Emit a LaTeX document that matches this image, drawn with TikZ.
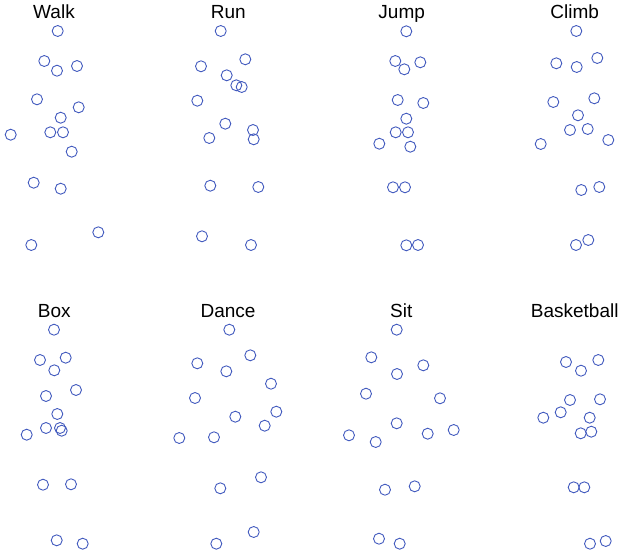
\documentclass[tikz,border=0pt]{standalone}
\usepackage{fontspec}
\setmainfont{Liberation Sans}
\usepackage{tikz}
\usepackage{xcolor}
\definecolor{jointblue}{RGB}{66,90,190}
\tikzset{joint/.style={circle, draw=jointblue, line width=0.9pt, minimum size=11pt, inner sep=0pt},
  title/.style={anchor=base, font=\fontsize{19}{19}\selectfont}}

\begin{document}
\begin{tikzpicture}[x=1pt,y=-1pt]
\useasboundingbox (0,0) rectangle (624,554);

% top row
\node[title] (walk) at (54,18.3) {Walk};
\foreach \px/\py [count=\i] in {57.7/31,44.3/61,57/70.7,77/66,37/99.3,78.7/107.3,60.7/117.7,10.7/134.7,50.3/132.3,63/132.3,71.7/151.7,33.7/182.7,60.7/188.7,98.3/232.3,31.3/245}
  \node[joint] (walk\i) at (\px,\py) {};

\node[title] (run) at (228.3,18.3) {Run};
\foreach \px/\py [count=\i] in {220.7/31,245.3/59.3,201/66.3,226.7/75.3,236.3/85.3,241.7/87,197.3/100.7,225.3/123.7,253/130,209.3/138,253.7/139.3,210.3/185.7,258.3/187,202/236.3,251/245}
  \node[joint] (run\i) at (\px,\py) {};

\node[title] (jump) at (401.7,18.3) {Jump};
\foreach \px/\py [count=\i] in {406.3/31.3,395.3/61,420.3/62.3,404.3/69.3,397.7/100,423.3/103,406.3/118.7,395.7/132.3,408/132.3,379.3/143.7,410.3/146.7,393/187.3,405/187.3,406.3/245.3,418/245}
  \node[joint] (jump\i) at (\px,\py) {};

\node[title] (climb) at (574.7,18.3) {Climb};
\foreach \px/\py [count=\i] in {576.3/31,597.3/58,556.3/63.3,576.7/67,594.3/98.3,553.3/102,578/115.3,570/130,587.7/129,608.3/140,540.7/144,599.3/187,581.3/190,588.3/240,576/245}
  \node[joint] (climb\i) at (\px,\py) {};

% bottom row
\node[title] (box) at (54.3,317.3) {Box};
\foreach \px/\py [count=\i] in {54/329.7,40/360,65.7/357.7,54.3/370.3,76/390,46/396,57.3/414,46/428,60/428,61.7/430.7,26.7/434.7,43/484.7,71/484.3,56.7/540.3,82.7/543.7}
  \node[joint] (box\i) at (\px,\py) {};

\node[title] (dance) at (228,317.3) {Dance};
\foreach \px/\py [count=\i] in {229.3/329.7,250.3/355.3,197.3/363.3,226.3/371.3,271/383.7,195/398,276.3/411.7,235.3/416.7,264.7/425.7,179.3/438,214/437.3,261/477.3,220.3/488.3,253.7/532,216.3/543.7}
  \node[joint] (dance\i) at (\px,\py) {};

\node[title] (sit) at (401.3,317.3) {Sit};
\foreach \px/\py [count=\i] in {396.7/329.7,371.3/357.3,423.3/365.3,397/374,366/393.7,440/398.3,396.7/423.3,349/435.3,453.7/430,427.7/433.7,375.7/442,385/489.7,414.7/486.3,379/538.7,399.7/543.7}
  \node[joint] (sit\i) at (\px,\py) {};

\node[title] (basket) at (574.7,317.3) {Basketball};
\foreach \px/\py [count=\i] in {566/362,598.3/360,581/370.7,570/400,600/399.3,560.7/412.3,543.3/417.7,589.7/417.7,580.7/433.3,591.3/431.7,573.7/487.3,584.3/487.3,590/543.7,605.7/541}
  \node[joint] (basket\i) at (\px,\py) {};

\end{tikzpicture}
\end{document}
